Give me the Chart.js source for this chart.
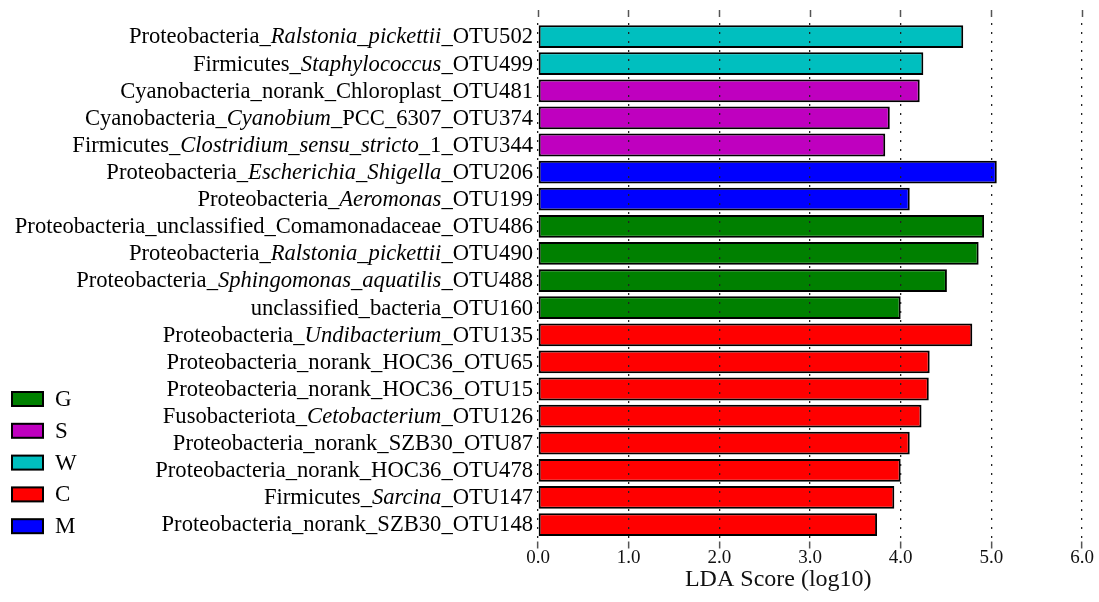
<!DOCTYPE html>
<html>
<head>
<meta charset="utf-8">
<script src="https://cdn.jsdelivr.net/npm/chart.js@4.4.0/dist/chart.umd.min.js"></script>
<style>
    html, body { margin: 0; padding: 0; background: #fff; }
    #wrap { width: 1099px; height: 602px; }
</style>
</head>
<body>
<div id="wrap"><canvas id="ldaChart"></canvas></div>
<script>
// Popisky OTU - kurzíva je označena hvězdičkami
const taxaLabels = [
    'Proteobacteria_*Ralstonia_pickettii*_OTU502',
    'Firmicutes_*Staphylococcus*_OTU499',
    'Cyanobacteria_norank_Chloroplast_OTU481',
    'Cyanobacteria_*Cyanobium*_PCC_6307_OTU374',
    'Firmicutes_*Clostridium_sensu_stricto*_1_OTU344',
    'Proteobacteria_*Escherichia_Shigella*_OTU206',
    'Proteobacteria_*Aeromonas*_OTU199',
    'Proteobacteria_unclassified_Comamonadaceae_OTU486',
    'Proteobacteria_*Ralstonia_pickettii*_OTU490',
    'Proteobacteria_*Sphingomonas_aquatilis*_OTU488',
    'unclassified_bacteria_OTU160',
    'Proteobacteria_*Undibacterium*_OTU135',
    'Proteobacteria_norank_HOC36_OTU65',
    'Proteobacteria_norank_HOC36_OTU15',
    'Fusobacteriota_*Cetobacterium*_OTU126',
    'Proteobacteria_norank_SZB30_OTU87',
    'Proteobacteria_norank_HOC36_OTU478',
    'Firmicutes_*Sarcina*_OTU147',
    'Proteobacteria_norank_SZB30_OTU148'
];

const ldaScores = [4.69, 4.25, 4.21, 3.88, 3.83, 5.06, 4.10, 4.92, 4.86, 4.51, 4.00,
                   4.79, 4.32, 4.31, 4.23, 4.10, 4.00, 3.93, 3.74];

const taxaGroups = ['W', 'W', 'S', 'S', 'S', 'M', 'M', 'G', 'G', 'G', 'G',
                    'C', 'C', 'C', 'C', 'C', 'C', 'C', 'C'];

// Skupiny v legendě a jejich barvy
const groupNames = ['G', 'S', 'W', 'C', 'M'];
const groupColors = ['#008000', '#bf00bf', '#00bfbf', '#ff0000', '#0000ff'];

const xTicks = [0, 1, 2, 3, 4, 5, 6];
const xTitle = 'LDA Score (log10)';

const SERIF = '"Liberation Serif", "Times New Roman", serif';

function colorOf(group) {
    return groupColors[groupNames.indexOf(group)];
}

// Plugin: popisky na ose Y se smíšenou kurzívou + titulek osy X
const richLabelsPlugin = {
    id: 'richLabels',
    afterDraw: (chart) => {
        const ctx = chart.ctx;
        const yAxis = chart.scales.y;
        const xAxis = chart.scales.x;
        const right = chart.chartArea.left - 5;

        ctx.save();
        ctx.fillStyle = '#000';
        ctx.textBaseline = 'middle';
        ctx.textAlign = 'left';

        taxaLabels.forEach((label, i) => {
            const parts = label.split('*');
            const fonts = parts.map((p, k) => (k % 2 ? 'italic ' : '') + '22.6px ' + SERIF);
            let total = 0;
            parts.forEach((p, k) => {
                ctx.font = fonts[k];
                total += ctx.measureText(p).width;
            });
            let x = right - total;
            const y = yAxis.getPixelForValue(i) + 1;
            parts.forEach((p, k) => {
                ctx.font = fonts[k];
                ctx.fillText(p, x, y);
                x += ctx.measureText(p).width;
            });
        });

        // titulek osy X (v originále mírně vlevo od středu)
        ctx.font = '24px ' + SERIF;
        ctx.textAlign = 'center';
        ctx.fillStyle = '#111';
        ctx.fillText(xTitle, xAxis.getPixelForValue(2.65), xAxis.bottom + 14);
        ctx.restore();
    }
};

// Plugin: legenda vlevo dole
const groupLegendPlugin = {
    id: 'groupLegend',
    afterDraw: (chart) => {
        const ctx = chart.ctx;
        ctx.save();
        ctx.font = '23px ' + SERIF;
        ctx.textBaseline = 'middle';
        groupNames.forEach((name, i) => {
            const y = 399 + i * 31.8;
            ctx.fillStyle = groupColors[i];
            ctx.fillRect(12, y - 7, 31, 14);
            ctx.lineWidth = 2;
            ctx.strokeStyle = '#000';
            ctx.strokeRect(12, y - 7, 31, 14);
            ctx.fillStyle = '#000';
            ctx.fillText(name, 55, y + 1);
        });
        ctx.restore();
    }
};

const canvas = document.getElementById('ldaChart');

new Chart(canvas.getContext('2d'), {
    type: 'bar',
    data: {
        labels: taxaLabels,
        datasets: [{
            data: ldaScores,
            backgroundColor: taxaGroups.map(colorOf),
            borderColor: '#000',
            borderWidth: 2,
            borderSkipped: false,
            barPercentage: 0.84,
            categoryPercentage: 1.0
        }]
    },
    options: {
        indexAxis: 'y',
        responsive: true,
        maintainAspectRatio: false,
        animation: false,
        layout: {
            padding: { left: 538, right: 17, top: 10, bottom: 36 }
        },
        plugins: {
            legend: { display: false },
            tooltip: { enabled: false }
        },
        scales: {
            y: {
                display: false
            },
            x: {
                position: 'bottom',
                min: 0,
                max: 6,
                afterBuildTicks: (axis) => {
                    axis.ticks = xTicks.map(v => ({ value: v }));
                },
                ticks: {
                    padding: -2,
                    color: '#111',
                    font: { family: SERIF, size: 19, lineHeight: 1.1 },
                    callback: (value) => Number(value).toFixed(1)
                },
                grid: {
                    z: 1,
                    color: '#222',
                    lineWidth: 1.3,
                    tickLength: 11,
                    tickColor: '#555',
                    tickWidth: 1.5,
                    tickBorderDash: [0, 3.5, 7, 200]
                },
                border: {
                    display: false,
                    dash: [2, 7]
                }
            },
            xTop: {
                position: 'top',
                min: 0,
                max: 6,
                afterBuildTicks: (axis) => {
                    axis.ticks = xTicks.map(v => ({ value: v }));
                },
                ticks: { display: false },
                grid: {
                    drawOnChartArea: false,
                    tickLength: 13,
                    tickColor: '#555',
                    tickWidth: 1.5,
                    tickBorderDash: [7, 200]
                },
                border: { display: false }
            }
        }
    },
    plugins: [richLabelsPlugin, groupLegendPlugin]
});
</script>
</body>
</html>
